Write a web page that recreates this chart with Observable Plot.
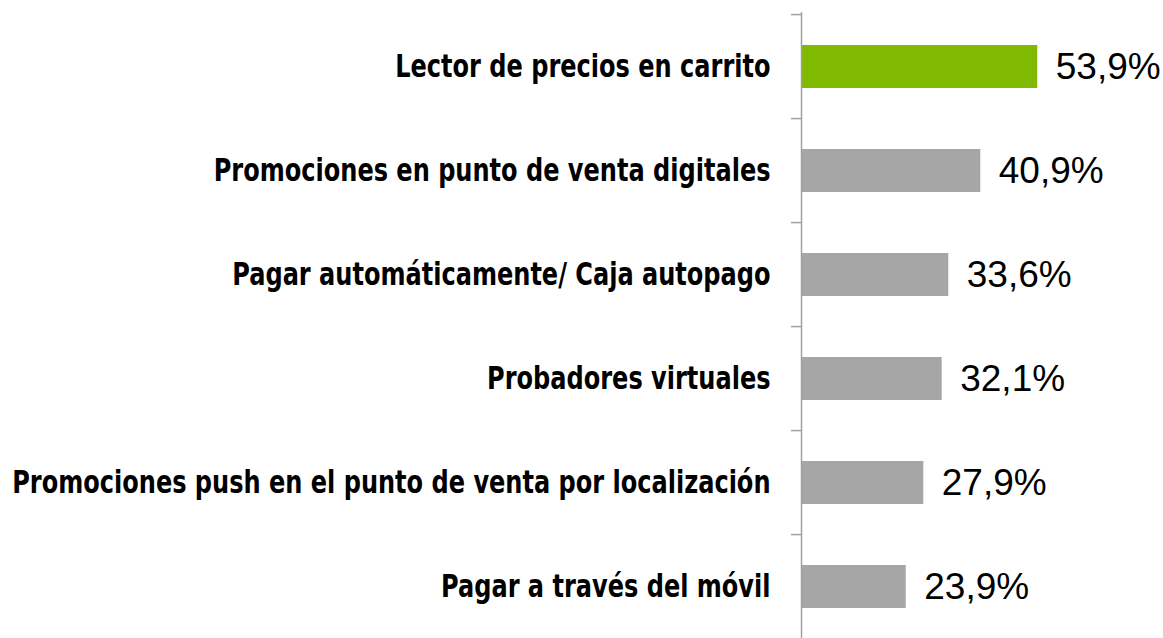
<!DOCTYPE html>
<html>
<head>
<meta charset="utf-8">
<script src="https://cdn.jsdelivr.net/npm/d3@7"></script>
<script src="https://cdn.jsdelivr.net/npm/@observablehq/plot@0.6"></script>
<style>
  html, body { margin: 0; padding: 0; background: #fff; }
  #chart svg { display: block; }
</style>
</head>
<body>
<div id="chart"></div>
<script>
const categories = [
  "Lector de precios en carrito",
  "Promociones en punto de venta digitales",
  "Pagar automáticamente/ Caja autopago",
  "Probadores virtuales",
  "Promociones push en el punto de venta por localización",
  "Pagar a través del móvil"
];
const values = [53.9, 40.9, 33.6, 32.1, 27.9, 23.9];
const highlight = [true, false, false, false, false, false];

const data = categories.map((c, i) => ({cat: c, value: values[i], hi: highlight[i]}));

const step = (641 - 12) / 6;

const chart = Plot.plot({
  width: 1163,
  height: 638,
  marginLeft: 801,
  marginRight: 99,
  marginTop: 12,
  marginBottom: 0,
  style: {background: "#fff"},
  x: {domain: [0, 60], axis: null},
  y: {domain: categories, range: [12, 641], paddingInner: 0.59, paddingOuter: 0.295, label: null},
  marks: [
    Plot.barX(data, {y: "cat", x: "value", fill: d => d.hi ? "#7fba00" : "#a6a6a6"}),
    Plot.ruleX([0], {stroke: "#a0a0a0", strokeWidth: 1.5}),
    Plot.ruleY(categories, {y: d => d, x1: -2.3, x2: 0, dy: -step / 2, stroke: "#a0a0a0", strokeWidth: 1.5}),
    Plot.axisY({tickSize: 0, tickPadding: 31, fontSize: 32, fontFamily: "DejaVu Sans Condensed", fontWeight: "bold", fill: "#000"}),
    Plot.text(data, {y: "cat", x: "value", text: d => d.value.toFixed(1).replace(".", ",") + "%", textAnchor: "start", dx: 18, fontSize: 37, fontFamily: "Liberation Sans", fill: "#000"})
  ]
});
document.getElementById("chart").appendChild(chart);
// compress the category labels horizontally to mimic a narrow condensed face
chart.querySelectorAll('g[aria-label="y-axis tick label"] text').forEach(t => {
  const w = t.getComputedTextLength();
  t.setAttribute("textLength", (w * 0.835).toFixed(1));
  t.setAttribute("lengthAdjust", "spacingAndGlyphs");
});
</script>
</body>
</html>
